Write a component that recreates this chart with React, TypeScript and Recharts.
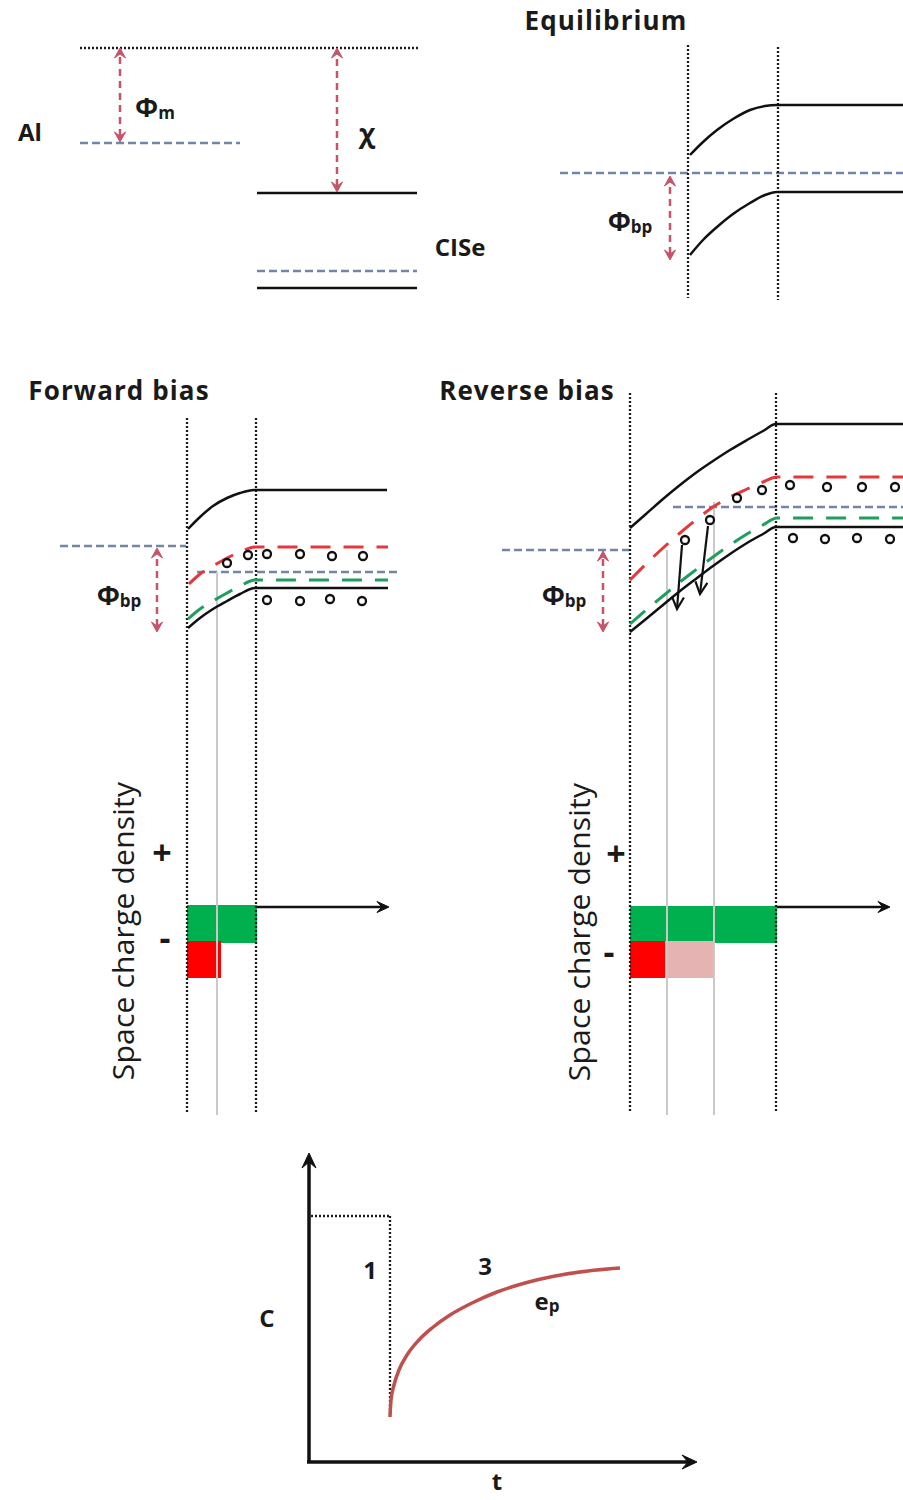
import React from "react";
import {
  ComposedChart,
  Line,
  XAxis,
  YAxis,
  ReferenceLine,
  ReferenceArea,
  ReferenceDot,
} from "recharts";

// The whole figure shares one coordinate space (x to the right, y downwards).
const WIDTH = 903;
const HEIGHT = 1500;
const FONT = "'Open Sans', 'DejaVu Sans', sans-serif";

type Pt = { x: number; y: number };
type Seg = { kind: string; x1: number; y1: number; x2: number; y2: number };

// ---- isolated Al and CISe levels
const isolatedLevels: Seg[] = [
  { kind: "vacuum", x1: 80, y1: 48, x2: 418, y2: 48 },
  { kind: "fermi", x1: 80, y1: 143, x2: 240, y2: 143 },
  { kind: "band", x1: 257, y1: 193, x2: 417, y2: 193 },
  { kind: "fermi", x1: 257, y1: 271, x2: 417, y2: 271 },
  { kind: "band", x1: 257, y1: 288, x2: 417, y2: 288 },
];

// ---- equilibrium
const eqConduction: Pt[] = [
  { x: 690, y: 155 }, { x: 703, y: 142 }, { x: 717, y: 130 }, { x: 733, y: 119 },
  { x: 750, y: 110 }, { x: 765, y: 106 }, { x: 777, y: 105 }, { x: 903, y: 105 },
];
const eqValence: Pt[] = [
  { x: 690, y: 255 }, { x: 703, y: 240 }, { x: 717, y: 227 }, { x: 733, y: 214 },
  { x: 750, y: 203 }, { x: 765, y: 195 }, { x: 777, y: 192 }, { x: 903, y: 192 },
];

// ---- forward bias
const fwConduction: Pt[] = [
  { x: 188, y: 529 }, { x: 200, y: 517 }, { x: 213, y: 506 }, { x: 227, y: 498 },
  { x: 240, y: 493 }, { x: 254, y: 490 }, { x: 387, y: 490 },
];
const fwTrapLevel: Pt[] = [
  { x: 189, y: 584 }, { x: 200, y: 574 }, { x: 213, y: 566 }, { x: 227, y: 558 },
  { x: 240, y: 552 }, { x: 255, y: 547 }, { x: 388, y: 547 },
];
const fwShallowLevel: Pt[] = [
  { x: 188, y: 619 }, { x: 200, y: 609 }, { x: 213, y: 601 }, { x: 227, y: 593 },
  { x: 240, y: 586 }, { x: 255, y: 580 }, { x: 388, y: 580 },
];
const fwValence: Pt[] = [
  { x: 188, y: 628 }, { x: 200, y: 618 }, { x: 213, y: 609 }, { x: 227, y: 601 },
  { x: 240, y: 594 }, { x: 255, y: 588 }, { x: 388, y: 588 },
];

// ---- reverse bias
const rvConduction: Pt[] = [
  { x: 630, y: 528 }, { x: 646, y: 514 }, { x: 663, y: 499 }, { x: 680, y: 485 },
  { x: 697, y: 472 }, { x: 713, y: 461 }, { x: 730, y: 450 }, { x: 747, y: 440 },
  { x: 763, y: 431 }, { x: 776, y: 424 }, { x: 903, y: 424 },
];
const rvTrapLevel: Pt[] = [
  { x: 630, y: 580 }, { x: 646, y: 564 }, { x: 663, y: 548 }, { x: 680, y: 533 },
  { x: 697, y: 519 }, { x: 713, y: 507 }, { x: 730, y: 497 }, { x: 747, y: 489 },
  { x: 763, y: 482 }, { x: 777, y: 477 }, { x: 903, y: 477 },
];
const rvShallowLevel: Pt[] = [
  { x: 630, y: 624 }, { x: 646, y: 610 }, { x: 663, y: 596 }, { x: 680, y: 582 },
  { x: 697, y: 569 }, { x: 713, y: 557 }, { x: 730, y: 545 }, { x: 747, y: 534 },
  { x: 763, y: 525 }, { x: 777, y: 518 }, { x: 903, y: 518 },
];
const rvValence: Pt[] = [
  { x: 630, y: 632 }, { x: 646, y: 619 }, { x: 663, y: 605 }, { x: 680, y: 591 },
  { x: 697, y: 578 }, { x: 713, y: 566 }, { x: 730, y: 554 }, { x: 747, y: 543 },
  { x: 763, y: 534 }, { x: 776, y: 527 }, { x: 903, y: 527 },
];

// ---- capacitance transient
const capTransient: Pt[] = [
  { x: 390, y: 1417 }, { x: 391, y: 1400 }, { x: 394, y: 1385 }, { x: 399, y: 1370 },
  { x: 407, y: 1355 }, { x: 418, y: 1341 }, { x: 432, y: 1328 }, { x: 450, y: 1315 },
  { x: 472, y: 1303 }, { x: 497, y: 1292 }, { x: 525, y: 1283 }, { x: 555, y: 1276 },
  { x: 588, y: 1271 }, { x: 620, y: 1268 },
];

const curves: { kind: string; points: Pt[] }[] = [
  { kind: "band", points: eqConduction },
  { kind: "band", points: eqValence },
  { kind: "band", points: fwConduction },
  { kind: "trap", points: fwTrapLevel },
  { kind: "shallow", points: fwShallowLevel },
  { kind: "band", points: fwValence },
  { kind: "band", points: rvConduction },
  { kind: "trap", points: rvTrapLevel },
  { kind: "shallow", points: rvShallowLevel },
  { kind: "band", points: rvValence },
  { kind: "transient", points: capTransient },
];

const biasLevels: Seg[] = [
  { kind: "fermi", x1: 560, y1: 173, x2: 903, y2: 173 },
  { kind: "fermi", x1: 60, y1: 546, x2: 186, y2: 546 },
  { kind: "fermi", x1: 197, y1: 572, x2: 398, y2: 572 },
  { kind: "fermi", x1: 502, y1: 550, x2: 629, y2: 550 },
  { kind: "fermi", x1: 673, y1: 507, x2: 903, y2: 507 },
  // depletion edges
  { kind: "edge", x1: 688, y1: 45, x2: 688, y2: 298 },
  { kind: "edge", x1: 778, y1: 47, x2: 778, y2: 300 },
  { kind: "edge", x1: 187, y1: 418, x2: 187, y2: 1112 },
  { kind: "edge", x1: 256, y1: 418, x2: 256, y2: 1112 },
  { kind: "edge", x1: 630, y1: 393, x2: 630, y2: 1112 },
  { kind: "edge", x1: 776, y1: 393, x2: 776, y2: 1112 },
  // trap crossing points
  { kind: "guide", x1: 217, y1: 572, x2: 217, y2: 1115 },
  { kind: "guide", x1: 667, y1: 550, x2: 667, y2: 1115 },
  { kind: "guide", x1: 714, y1: 502, x2: 714, y2: 1115 },
  // C-t step
  { kind: "edge", x1: 311, y1: 1216, x2: 390, y2: 1216 },
  { kind: "edge", x1: 390, y1: 1216, x2: 390, y2: 1416 },
];

// Space charge blocks
const chargeBlocks = [
  { kind: "donor", x1: 187, x2: 257, y1: 905, y2: 943 },
  { kind: "filled", x1: 187, x2: 221, y1: 941, y2: 978 },
  { kind: "donor", x1: 630, x2: 777, y1: 906, y2: 943 },
  { kind: "filled", x1: 630, x2: 665, y1: 941, y2: 978 },
  { kind: "emptied", x1: 665, x2: 714, y1: 941, y2: 978 },
];

// Trap occupation markers
const fwTrapsUpper: Pt[] = [
  { x: 227, y: 563 }, { x: 248, y: 555 }, { x: 267, y: 554 },
  { x: 300, y: 554 }, { x: 332, y: 556 }, { x: 363, y: 556 },
];
const fwTrapsLower: Pt[] = [
  { x: 267, y: 600 }, { x: 300, y: 601 }, { x: 330, y: 599 }, { x: 362, y: 601 },
];
const rvTrapsUpper: Pt[] = [
  { x: 737, y: 498 }, { x: 762, y: 490 }, { x: 790, y: 485 },
  { x: 827, y: 487 }, { x: 862, y: 487 }, { x: 895, y: 487 },
];
const rvTrapsEmitting: Pt[] = [
  { x: 685, y: 540 }, { x: 710, y: 520 },
];
const rvTrapsLower: Pt[] = [
  { x: 793, y: 538 }, { x: 825, y: 539 }, { x: 857, y: 538 }, { x: 890, y: 539 },
];
const trapMarkers = [
  ...fwTrapsUpper, ...fwTrapsLower, ...rvTrapsUpper, ...rvTrapsEmitting, ...rvTrapsLower,
];

// Arrows
const arrows: Seg[] = [
  { kind: "phi", x1: 120, y1: 142, x2: 120, y2: 48 },
  { kind: "phi", x1: 337, y1: 192, x2: 337, y2: 48 },
  { kind: "phi", x1: 670, y1: 260, x2: 670, y2: 176 },
  { kind: "phi", x1: 157, y1: 632, x2: 157, y2: 548 },
  { kind: "phi", x1: 603, y1: 632, x2: 603, y2: 551 },
  { kind: "capture", x1: 682, y1: 545, x2: 677, y2: 609 },
  { kind: "capture", x1: 708, y1: 526, x2: 700, y2: 594 },
  { kind: "axis", x1: 257, y1: 907, x2: 389, y2: 907 },
  { kind: "axis", x1: 777, y1: 907, x2: 890, y2: 907 },
  { kind: "ctAxis", x1: 309, y1: 1463, x2: 309, y2: 1153 },
  { kind: "ctAxis", x1: 307, y1: 1462, x2: 697, y2: 1462 },
];

// Text
type Lbl = { role: string; x: number; y: number; text: string; sub?: string };
const labels: Lbl[] = [
  { role: "title", x: 606, y: 20, text: "Equilibrium" },
  { role: "title", x: 119, y: 390, text: "Forward bias" },
  { role: "title", x: 527, y: 390, text: "Reverse bias" },
  { role: "material", x: 30, y: 131, text: "Al" },
  { role: "material", x: 460, y: 246, text: "CISe" },
  { role: "symbol", x: 155, y: 106, text: "Φ", sub: "m" },
  { role: "symbol", x: 367, y: 132, text: "χ" },
  { role: "symbol", x: 630, y: 220, text: "Φ", sub: "bp" },
  { role: "symbol", x: 119, y: 594, text: "Φ", sub: "bp" },
  { role: "symbol", x: 564, y: 594, text: "Φ", sub: "bp" },
  { role: "sign", x: 162, y: 852, text: "+" },
  { role: "sign", x: 165, y: 937, text: "-" },
  { role: "sign", x: 616, y: 853, text: "+" },
  { role: "sign", x: 609, y: 951, text: "-" },
  { role: "axisTitle", x: 122, y: 931, text: "Space charge density" },
  { role: "axisTitle", x: 578, y: 932, text: "Space charge density" },
  { role: "ct", x: 267, y: 1317, text: "C" },
  { role: "ct", x: 370, y: 1269, text: "1" },
  { role: "ct", x: 485, y: 1265, text: "3" },
  { role: "ct", x: 547, y: 1300, text: "e", sub: "p" },
  { role: "ct", x: 497, y: 1480, text: "t" },
];

const lineStyles: Record<string, { stroke: string; strokeWidth: number; strokeDasharray?: string }> = {
  vacuum: { stroke: "#1c1c1c", strokeWidth: 2.3, strokeDasharray: "2 2" },
  edge: { stroke: "#1c1c1c", strokeWidth: 2.3, strokeDasharray: "2 2" },
  fermi: { stroke: "#7385a8", strokeWidth: 2.5, strokeDasharray: "8 4" },
  band: { stroke: "#111111", strokeWidth: 2.5 },
  guide: { stroke: "#c9c9c9", strokeWidth: 2 },
  trap: { stroke: "#e5383b", strokeWidth: 3, strokeDasharray: "20 13" },
  shallow: { stroke: "#1f9e5e", strokeWidth: 3, strokeDasharray: "20 13" },
  transient: { stroke: "#c0504d", strokeWidth: 3.5 },
};

const blockFills: Record<string, string> = {
  donor: "#00b04f",
  filled: "#ff0000",
  emptied: "#e6b3b3",
};

const arrowStyles: Record<
  string,
  { color: string; width: number; dash?: string; both: boolean; head: "stealth" | "vee"; len: number; half: number }
> = {
  phi: { color: "#c75469", width: 2.5, dash: "7 5", both: true, head: "stealth", len: 10, half: 5.5 },
  capture: { color: "#111111", width: 2.2, both: false, head: "vee", len: 12, half: 6 },
  axis: { color: "#111111", width: 2.5, both: false, head: "stealth", len: 12, half: 5.5 },
  ctAxis: { color: "#111111", width: 3.5, both: false, head: "stealth", len: 15, half: 7 },
};

const textStyles: Record<string, { size: number; sub: number; weight: number; spacing?: number; rotate?: boolean }> = {
  title: { size: 26, sub: 16, weight: 700, spacing: 1.1 },
  material: { size: 24, sub: 16, weight: 700 },
  symbol: { size: 27, sub: 17, weight: 700 },
  sign: { size: 34, sub: 16, weight: 700 },
  axisTitle: { size: 30, sub: 16, weight: 400, spacing: 0.2, rotate: true },
  ct: { size: 24, sub: 17, weight: 700 },
};

function headPath(tx: number, ty: number, ux: number, uy: number, len: number, half: number, stealth: boolean) {
  const bx = tx - ux * len;
  const by = ty - uy * len;
  const nx = -uy * half;
  const ny = ux * half;
  if (!stealth) {
    return `M${bx + nx},${by + ny} L${tx},${ty} L${bx - nx},${by - ny}`;
  }
  const mx = tx - ux * len * 0.6;
  const my = ty - uy * len * 0.6;
  return `M${bx + nx},${by + ny} L${tx},${ty} L${bx - nx},${by - ny} L${mx},${my} Z`;
}

function renderArrow(kind: string) {
  const s = arrowStyles[kind];
  return (p: any) => {
    const { x1, y1, x2, y2 } = p;
    const d = Math.hypot(x2 - x1, y2 - y1) || 1;
    const ux = (x2 - x1) / d;
    const uy = (y2 - y1) / d;
    const stealth = s.head === "stealth";
    const trim = stealth ? s.len * 0.6 : 1;
    const sx = s.both ? x1 + ux * trim : x1;
    const sy = s.both ? y1 + uy * trim : y1;
    return (
      <g>
        <line
          x1={sx}
          y1={sy}
          x2={x2 - ux * trim}
          y2={y2 - uy * trim}
          stroke={s.color}
          strokeWidth={s.width}
          strokeDasharray={s.dash}
        />
        <path
          d={headPath(x2, y2, ux, uy, s.len, s.half, stealth)}
          fill={stealth ? s.color : "none"}
          stroke={s.color}
          strokeWidth={stealth ? 1 : s.width}
          strokeLinejoin="miter"
        />
        {s.both && (
          <path
            d={headPath(x1, y1, -ux, -uy, s.len, s.half, stealth)}
            fill={stealth ? s.color : "none"}
            stroke={s.color}
            strokeWidth={stealth ? 1 : s.width}
          />
        )}
      </g>
    );
  };
}

function renderLabel(l: Lbl) {
  const s = textStyles[l.role];
  return (p: any) => {
    const { cx, cy } = p;
    return (
      <text
        x={cx}
        y={cy}
        textAnchor="middle"
        dominantBaseline="central"
        fontFamily={FONT}
        fontSize={s.size}
        fontWeight={s.weight}
        letterSpacing={s.spacing}
        fill="#1a1a1a"
        transform={s.rotate ? `rotate(-90 ${cx} ${cy})` : undefined}
      >
        <tspan>{l.text}</tspan>
        {l.sub && (
          <tspan fontSize={s.sub} dy={s.size * 0.22}>
            {l.sub}
          </tspan>
        )}
      </text>
    );
  };
}

export default function App() {
  const segments = [...isolatedLevels, ...biasLevels];
  return (
    <div style={{ position: "absolute", left: 0, top: 0, width: WIDTH, height: HEIGHT, background: "#fff" }}>
      <ComposedChart width={WIDTH} height={HEIGHT} margin={{ top: 0, right: 0, bottom: 0, left: 0 }}>
        <XAxis type="number" dataKey="x" domain={[0, WIDTH]} allowDataOverflow hide />
        <YAxis type="number" dataKey="y" domain={[0, HEIGHT]} reversed allowDataOverflow hide />

        {chargeBlocks.map((b, i) => (
          <ReferenceArea
            key={`blk-${i}`}
            x1={b.x1}
            x2={b.x2}
            y1={b.y1}
            y2={b.y2}
            fill={blockFills[b.kind]}
            fillOpacity={1}
            stroke="none"
          />
        ))}

        {segments.map((s, i) => (
          <ReferenceLine
            key={`seg-${i}`}
            segment={[
              { x: s.x1, y: s.y1 },
              { x: s.x2, y: s.y2 },
            ]}
            {...lineStyles[s.kind]}
          />
        ))}

        {curves.map((c, i) => (
          <Line
            key={`curve-${i}`}
            data={c.points}
            dataKey="y"
            type="monotone"
            dot={false}
            activeDot={false}
            isAnimationActive={false}
            {...lineStyles[c.kind]}
          />
        ))}

        {arrows.map((a, i) => (
          <ReferenceLine
            key={`arr-${i}`}
            segment={[
              { x: a.x1, y: a.y1 },
              { x: a.x2, y: a.y2 },
            ]}
            shape={renderArrow(a.kind)}
          />
        ))}

        {trapMarkers.map((m, i) => (
          <ReferenceDot key={`trap-${i}`} x={m.x} y={m.y} r={4} fill="#ffffff" stroke="#111111" strokeWidth={2.3} />
        ))}

        {labels.map((l, i) => (
          <ReferenceDot key={`lbl-${i}`} x={l.x} y={l.y} r={1} shape={renderLabel(l)} />
        ))}
      </ComposedChart>
    </div>
  );
}
